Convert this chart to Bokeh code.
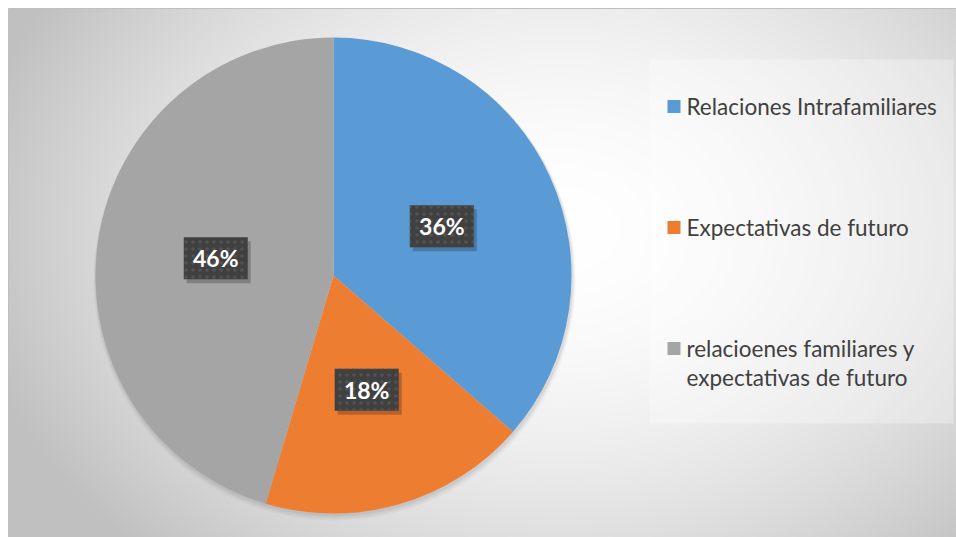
import numpy as np
from bokeh.plotting import figure
from bokeh.models import Range1d, ColumnDataSource
from bokeh.embed import file_html
from bokeh.resources import INLINE
from bokeh.core.properties import value

# ---- data ----
categories = ["Relaciones Intrafamiliares", "Expectativas de futuro",
              "relacioenes familiares y\nexpectativas de futuro"]
shares = [36.4, 18.2, 45.4]
label_texts = ["36%", "18%", "46%"]
colors = ["#5B9BD5", "#ED7D31", "#A5A5A5"]

W, H = 956, 537
p = figure(width=W, height=H, x_range=Range1d(0, W), y_range=Range1d(0, H),
           output_backend="svg", toolbar_location=None, min_border=0)
p.axis.visible = False
p.grid.visible = False
p.outline_line_color = None
p.background_fill_color = "white"
p.border_fill_color = "white"

# ---- chart area radial gradient background ----
X0, Y0 = 8, 8
gw, gh = W - X0, H - Y0
yy, xx = np.mgrid[0:gh, 0:gw]
sx = xx + X0 + 0.5
sy = H - (yy + 0.5)
cxg, cyg, rx, ry = 560.0, 230.0, 600.0, 450.0
d = np.clip(np.sqrt(((sx - cxg) / rx) ** 2 + ((sy - cyg) / ry) ** 2), 0, 1)
c = (255 - 63 * d ** 1.8).astype(np.uint32)
img = (255 << 24) | (c << 16) | (c << 8) | c
p.image_rgba(image=[img.astype(np.uint32)], x=X0, y=0, dw=gw, dh=gh)
p.line(x=[X0, X0, W], y=[0, H - Y0, H - Y0], line_color="#c0c0c0", line_width=1)

# ---- pie ----
PCX, PCY, R = 333, H - 275, 238
vals = np.array(shares, dtype=float)
frac = vals / vals.sum()
cum_end = np.cumsum(frac)
cum_start = cum_end - frac
start_angle = np.pi / 2 - 2 * np.pi * cum_end
end_angle = np.pi / 2 - 2 * np.pi * cum_start

# soft shadow
for k, a in enumerate([0.05, 0.04, 0.03]):
    p.circle(x=PCX + 1, y=PCY - 2 - k, radius=R + 1 + k, fill_color="black",
             fill_alpha=a, line_color=None)

src = ColumnDataSource(dict(start=start_angle, end=end_angle, color=colors))
p.wedge(x=PCX, y=PCY, radius=R, start_angle="start", end_angle="end",
        fill_color="color", line_color=None, source=src)

# ---- data labels ----
mid = 2 * np.pi * (cum_start + frac / 2)
lx = PCX + 0.5 * R * np.sin(mid)
ly = PCY + 0.5 * R * np.cos(mid)
p.rect(x=lx + 3, y=ly - 4, width=64, height=42, width_units="screen",
       height_units="screen", fill_color="black", fill_alpha=0.22, line_color=None)
p.rect(x=lx, y=ly, width=64, height=42, width_units="screen", height_units="screen",
       fill_color="#404040", line_color=None, hatch_pattern="dot",
       hatch_color="#525252", hatch_scale=7, hatch_weight=2.2)
p.text(x=lx, y=ly, text=label_texts, text_font=value("Lato"), text_font_style="bold",
       text_font_size="23px", text_color="white", text_align="center",
       text_baseline="middle")

# ---- legend ----
p.quad(left=649, right=953, top=H - 59, bottom=H - 423, fill_color="white",
       fill_alpha=0.3, line_color=None)
item_y = [106, 227, 348]
p.rect(x=[673.5] * 3, y=[H - v for v in item_y], width=13, height=13,
       width_units="screen", height_units="screen", fill_color=colors, line_color=None)
tx, ty = [], []
for cat, yv in zip(categories, item_y):
    for j, line in enumerate(cat.split("\n")):
        tx.append(line)
        ty.append(H - (yv + 29 * j))
p.text(x=[686] * len(tx), y=ty, text=tx, text_font=value("Lato"),
       text_font_size="22.5px", text_color="#404040", text_align="left",
       text_baseline="middle")

open("out.html", "w").write(file_html(p, INLINE))
